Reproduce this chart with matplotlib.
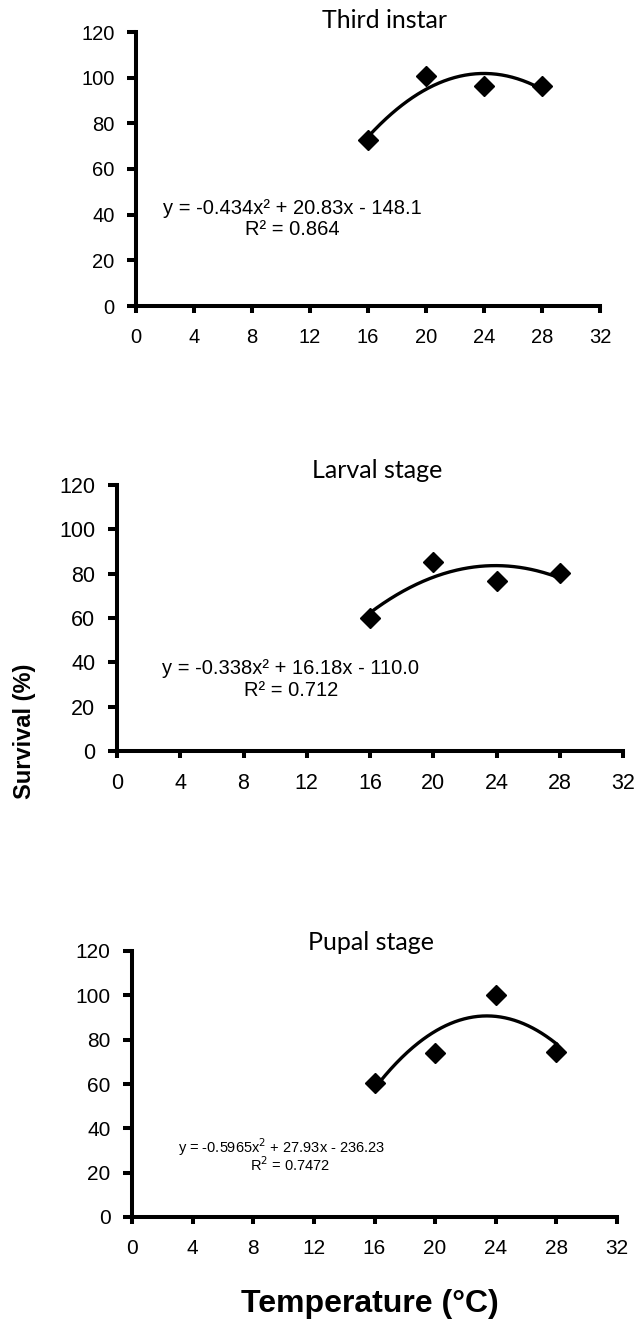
import numpy as np
import matplotlib
matplotlib.use("Agg")
import matplotlib.pyplot as plt

# ---- data ----
temperature = [16, 20, 24, 28]
third_instar = [72.5, 100.6, 96.2, 96.2]
larval_stage = [59.8, 85.2, 76.7, 80.2]
pupal_stage = [60.5, 73.9, 100.0, 74.4]

coef_third = [-0.434, 20.83, -148.1]
coef_larval = [-0.338, 16.18, -110.0]
coef_pupal = [-0.5965, 27.93, -236.23]

titles = ["Third instar", "Larval stage", "Pupal stage"]
eq_texts = ["y = -0.434x² + 20.83x - 148.1",
            "y = -0.338x² + 16.18x - 110.0",
            "y = -0.5965x$^{2}$ + 27.93x - 236.23"]
r2_texts = ["R² = 0.864", "R² = 0.712", "R$^{2}$ = 0.7472"]

x_ticks = [0, 4, 8, 12, 16, 20, 24, 28, 32]
y_ticks = [0, 20, 40, 60, 80, 100, 120]

W, H = 644, 1330
fig = plt.figure(figsize=(W / 100, H / 100), dpi=100)

# pixel boxes (left, right, top, bottom)
boxes = [(136, 600, 32, 306), (117, 623, 485, 751), (132, 617, 951, 1217)]
title_pos = [(385, 20), (377, 471), (371, 942)]
tick_fs = [14.5, 15.5, 15]
# eq x-centre, eq y, r2 x-centre, r2 y, fontsize
eq_pos = [(10.8, 42.8, 10.8, 33.4, 14.5),
          (11.0, 37.0, 11.0, 27.4, 14.5),
          (9.85, 31.6, 10.4, 23.5, 10.5)]

series = [third_instar, larval_stage, pupal_stage]
coefs = [coef_third, coef_larval, coef_pupal]

for i in range(3):
    l, r, t, b = boxes[i]
    ax = fig.add_axes([l / W, 1 - b / H, (r - l) / W, (b - t) / H])
    ax.set_xlim(0, 32)
    ax.set_ylim(0, 120)
    ax.set_xticks(x_ticks)
    ax.set_yticks(y_ticks)
    for s in ["top", "right"]:
        ax.spines[s].set_visible(False)
    for s in ["left", "bottom"]:
        ax.spines[s].set_linewidth(2.9)
        ax.spines[s].set_color("black")
    ax.tick_params(axis="x", direction="out", length=5, width=2.9, pad=11,
                   labelsize=tick_fs[i])
    ax.tick_params(axis="y", direction="out", length=6.5, width=2.9, pad=9,
                   labelsize=tick_fs[i])
    for lab in ax.get_xticklabels() + ax.get_yticklabels():
        lab.set_family("Liberation Sans")

    xs = np.linspace(temperature[0], temperature[-1], 200)
    ys = np.polyval(coefs[i], xs)
    ax.plot(xs, ys, color="black", lw=2.4, clip_on=False)
    ax.plot(temperature, series[i], linestyle="none", marker="D",
            markersize=10, color="black", clip_on=False)

    ex, ey, rx, ry, fs = eq_pos[i]
    ax.text(ex, ey, eq_texts[i], ha="center", va="center", fontsize=fs,
            family="Liberation Sans")
    ax.text(rx, ry, r2_texts[i], ha="center", va="center",
            fontsize=fs, family="Liberation Sans")

    tx, ty = title_pos[i]
    fig.text(tx / W, 1 - ty / H, titles[i], ha="center", va="center",
             fontsize=18, family="Lato")

fig.text(25 / W, 1 - 731 / H, "Survival (%)", rotation=90, ha="center",
         va="center", fontsize=17, fontweight="bold", family="Liberation Sans")
fig.text(370 / W, 1 - 1304 / H, "Temperature (°C)", ha="center",
         va="center", fontsize=23, fontweight="bold", family="Liberation Sans")

fig.savefig("out.png", dpi=100)
